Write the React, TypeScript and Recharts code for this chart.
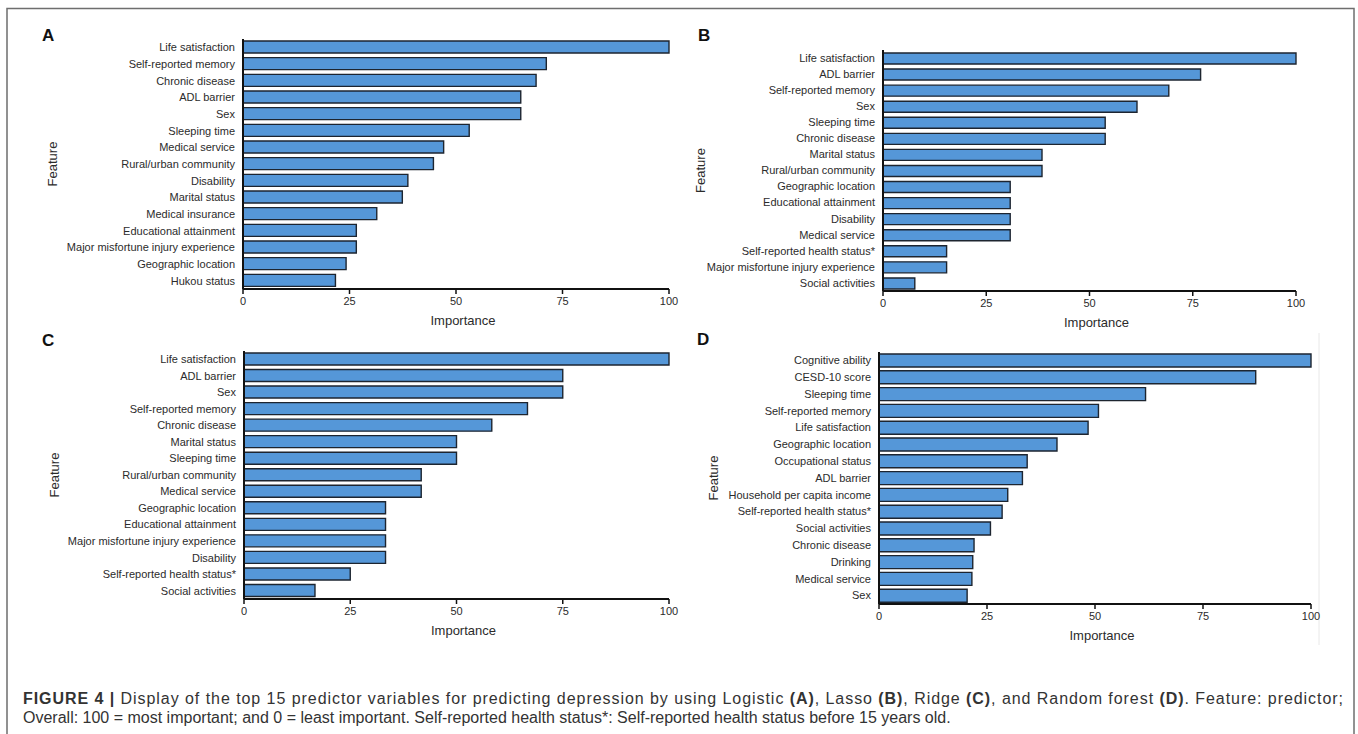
import { Bar, BarChart, XAxis, YAxis } from "recharts";

// Panel A - Logistic
const featuresA = [
  "Life satisfaction",
  "Self-reported memory",
  "Chronic disease",
  "ADL barrier",
  "Sex",
  "Sleeping time",
  "Medical service",
  "Rural/urban community",
  "Disability",
  "Marital status",
  "Medical insurance",
  "Educational attainment",
  "Major misfortune injury experience",
  "Geographic location",
  "Hukou status",
];
const importanceA = [100, 71.2, 68.8, 65.2, 65.2, 53.1, 47.1, 44.7, 38.7, 37.4, 31.4, 26.6, 26.6, 24.2, 21.7];

// Panel B - Lasso
const featuresB = [
  "Life satisfaction",
  "ADL barrier",
  "Self-reported memory",
  "Sex",
  "Sleeping time",
  "Chronic disease",
  "Marital status",
  "Rural/urban community",
  "Geographic location",
  "Educational attainment",
  "Disability",
  "Medical service",
  "Self-reported health status*",
  "Major misfortune injury experience",
  "Social activities",
];
const importanceB = [100, 76.9, 69.2, 61.5, 53.8, 53.8, 38.5, 38.5, 30.8, 30.8, 30.8, 30.8, 15.4, 15.4, 7.7];

// Panel C - Ridge
const featuresC = [
  "Life satisfaction",
  "ADL barrier",
  "Sex",
  "Self-reported memory",
  "Chronic disease",
  "Marital status",
  "Sleeping time",
  "Rural/urban community",
  "Medical service",
  "Geographic location",
  "Educational attainment",
  "Major misfortune injury experience",
  "Disability",
  "Self-reported health status*",
  "Social activities",
];
const importanceC = [100, 75, 75, 66.7, 58.3, 50, 50, 41.7, 41.7, 33.3, 33.3, 33.3, 33.3, 25, 16.7];

// Panel D - Random forest
const featuresD = [
  "Cognitive ability",
  "CESD-10 score",
  "Sleeping time",
  "Self-reported memory",
  "Life satisfaction",
  "Geographic location",
  "Occupational status",
  "ADL barrier",
  "Household per capita income",
  "Self-reported health status*",
  "Social activities",
  "Chronic disease",
  "Drinking",
  "Medical service",
  "Sex",
];
const importanceD = [100, 87.2, 61.7, 50.8, 48.4, 41.2, 34.3, 33.2, 29.8, 28.5, 25.8, 22.0, 21.7, 21.5, 20.4];

const importanceTicks = [0, 25, 50, 75, 100];

const FONT = "'Liberation Sans', Arial, Helvetica, sans-serif";
const TEXT = "#2b2b2b";
const BAR_FILL = "#5597d8";
const BAR_STROKE = "#1d2530";

// plain tick so long feature names never wrap
function FeatureTick(props: any) {
  const { x, y, payload } = props;
  return (
    <text x={x} y={y} dy="0.35em" textAnchor="end" fontSize={11} fontFamily={FONT} fill={TEXT}>
      {payload.value}
    </text>
  );
}

type PanelProps = {
  letter: string;
  features: string[];
  values: number[];
  left: number;
  top: number;
  width: number;
  height: number;
  plotTop: number;
  plotBottom: number;
  plotLeft: number;
  plotRight: number;
  featureGap: number;
  barSize: number;
  letterX: number;
  letterY: number;
};

function Panel(p: PanelProps) {
  const data = p.features.map((name, i) => ({ name, value: p.values[i] }));
  const axisHeight = 40;
  const margin = {
    top: p.plotTop,
    right: p.width - p.plotRight,
    bottom: p.height - p.plotBottom - axisHeight,
    left: 0,
  };
  const midX = (p.plotLeft + p.plotRight) / 2 + 7;
  const midY = (p.plotTop + p.plotBottom) / 2;
  const fx = p.plotLeft - p.featureGap;

  return (
    <div style={{ position: "absolute", left: p.left, top: p.top }}>
      <BarChart width={p.width} height={p.height} data={data} layout="vertical" margin={margin}>
        <XAxis
          type="number"
          domain={[0, 100]}
          ticks={importanceTicks}
          height={axisHeight}
          axisLine={{ stroke: "#111", strokeWidth: 2 }}
          tickLine={{ stroke: "#111", strokeWidth: 1.5 }}
          tickSize={5}
          tickMargin={3}
          tick={{ fill: TEXT, fontSize: 11, fontFamily: FONT }}
          label={{
            content: () => (
              <text
                x={midX}
                y={p.plotBottom + 31}
                textAnchor="middle"
                dominantBaseline="central"
                fontSize={13}
                fontFamily={FONT}
                fill={TEXT}
              >
                Importance
              </text>
            ),
          }}
        />
        <YAxis
          type="category"
          dataKey="name"
          width={p.plotLeft}
          interval={0}
          axisLine={{ stroke: "#111", strokeWidth: 2 }}
          tickLine={false}
          tickSize={0}
          tickMargin={8}
          tick={<FeatureTick />}
          label={{
            content: () => (
              <text
                x={fx}
                y={midY}
                transform={`rotate(-90 ${fx} ${midY})`}
                textAnchor="middle"
                dominantBaseline="central"
                fontSize={13}
                fontFamily={FONT}
                fill={TEXT}
              >
                Feature
              </text>
            ),
          }}
        />
        <Bar
          dataKey="value"
          fill={BAR_FILL}
          stroke={BAR_STROKE}
          strokeWidth={1.4}
          barSize={p.barSize}
          isAnimationActive={false}
        />
      </BarChart>
      <div
        style={{
          position: "absolute",
          left: p.letterX - p.left,
          top: p.letterY - p.top - 15,
          fontFamily: FONT,
          fontWeight: 700,
          fontSize: 17,
          lineHeight: "17px",
          color: "#111",
        }}
      >
        {p.letter}
      </div>
    </div>
  );
}

export default function App() {
  return (
    <div
      style={{
        position: "absolute",
        left: 0,
        top: 0,
        width: 1358,
        height: 734,
        background: "#fff",
        overflow: "hidden",
      }}
    >
      <svg width={1358} height={734} style={{ position: "absolute", left: 0, top: 0 }}>
        <rect x={7} y={8.5} width={1347} height={740} fill="none" stroke="#6e6e6e" strokeWidth={1.5} />
        <line x1={1319} y1={333} x2={1319} y2={645} stroke="#e8e8e8" strokeWidth={1} />
        <text
          x={23}
          y={704}
          fontFamily={FONT}
          fontSize={16}
          fill="#333"
          textLength={1320}
          lengthAdjust="spacing"
        >
          <tspan fontWeight={700}>FIGURE 4 | </tspan>
          <tspan>Display of the top 15 predictor variables for predicting depression by using Logistic </tspan>
          <tspan fontWeight={700}>(A)</tspan>
          <tspan>, Lasso </tspan>
          <tspan fontWeight={700}>(B)</tspan>
          <tspan>, Ridge </tspan>
          <tspan fontWeight={700}>(C)</tspan>
          <tspan>, and Random forest </tspan>
          <tspan fontWeight={700}>(D)</tspan>
          <tspan>. Feature: predictor;</tspan>
        </text>
        <text x={23} y={723} fontFamily={FONT} fontSize={16} fill="#333">
          Overall: 100 = most important; and 0 = least important. Self-reported health status*: Self-reported health
          status before 15 years old.
        </text>
      </svg>
      <Panel
        letter="A"
        features={featuresA}
        values={importanceA}
        left={0}
        top={0}
        width={680}
        height={335}
        plotTop={39}
        plotBottom={289}
        plotLeft={243}
        plotRight={669}
        featureGap={191}
        barSize={12}
        letterX={42}
        letterY={42}
      />
      <Panel
        letter="B"
        features={featuresB}
        values={importanceB}
        left={680}
        top={0}
        width={678}
        height={335}
        plotTop={50}
        plotBottom={291}
        plotLeft={203}
        plotRight={616}
        featureGap={183}
        barSize={11}
        letterX={698}
        letterY={42}
      />
      <Panel
        letter="C"
        features={featuresC}
        values={importanceC}
        left={0}
        top={325}
        width={680}
        height={335}
        plotTop={26}
        plotBottom={274}
        plotLeft={244}
        plotRight={669}
        featureGap={190}
        barSize={12}
        letterX={42}
        letterY={347}
      />
      <Panel
        letter="D"
        features={featuresD}
        values={importanceD}
        left={680}
        top={325}
        width={678}
        height={335}
        plotTop={27}
        plotBottom={279}
        plotLeft={199}
        plotRight={631}
        featureGap={166}
        barSize={13}
        letterX={697}
        letterY={346}
      />
    </div>
  );
}
